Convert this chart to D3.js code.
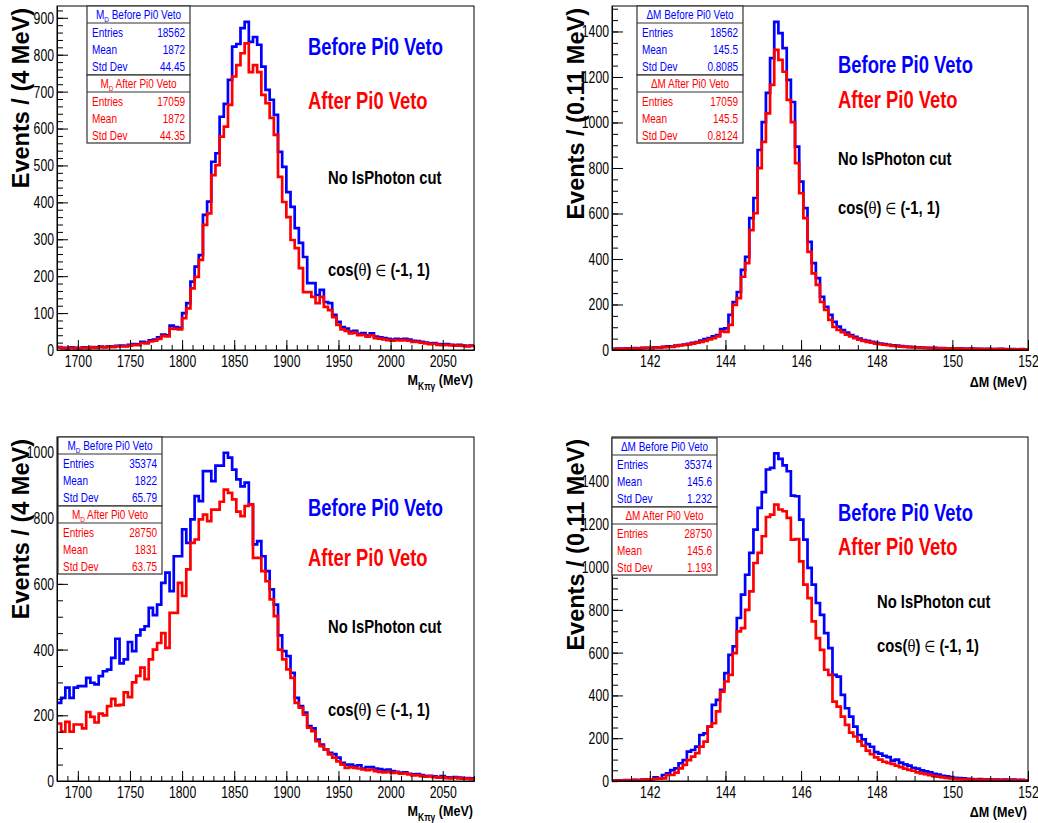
<!DOCTYPE html>
<html><head><meta charset="utf-8">
<script src="https://cdn.jsdelivr.net/npm/d3@7"></script>
<style>body{margin:0;background:#fff} svg{display:block}</style>
</head><body>
<svg id="c" width="1038" height="823"></svg>
<script>
// ---------------- DATA ----------------
const mdRange = [1680, 2080];          // M_Kpiγ histogram range (100 bins of 4 MeV)
const dmRange = [141, 152];            // ΔM histogram range (100 bins of 0.11 MeV)
const mdTicks = [1700, 1750, 1800, 1850, 1900, 1950, 2000, 2050];
const dmTicks = [142, 144, 146, 148, 150, 152];
const tlYTicks = [0, 100, 200, 300, 400, 500, 600, 700, 800, 900];
const trYTicks = [0, 200, 400, 600, 800, 1000, 1200, 1400];
const blYTicks = [0, 200, 400, 600, 800, 1000];
const brYTicks = [0, 200, 400, 600, 800, 1000, 1200, 1400];

const tlBefore = [8,6,5,7,6,5,7,6,8,7,9,8,10,9,11,12,11,14,16,15,22,20,26,28,34,42,40,66,62,60,
 100,127,185,226,257,366,402,510,533,632,667,732,822,829,872,889,835,848,827,768,705,678,637,537,496,
 428,388,330,290,252,181,181,149,163,130,127,95,76,62,58,50,52,44,46,40,45,36,34,32,30,28,30,29,30,28,
 25,24,22,20,18,19,16,15,16,14,13,14,12,11,12];
const tlAfter = [7,5,5,6,5,5,6,5,7,6,8,7,9,8,10,10,10,12,14,13,19,18,23,25,30,38,37,58,57,56,
 86,113,167,198,244,339,370,474,501,578,605,664,741,772,804,831,753,772,753,691,669,629,583,469,401,
 360,298,276,222,157,157,144,127,144,117,108,89,68,56,52,45,47,40,41,36,40,32,31,29,27,25,27,26,27,25,
 22,22,20,18,16,17,14,13,14,13,12,12,11,10,11];

const trBefore = [5,6,5,7,6,8,7,9,10,9,12,11,14,16,15,19,22,24,27,31,35,41,48,52,60,66,92,95,154,211,
 255,352,409,580,668,879,1002,1130,1283,1442,1393,1327,1187,1090,894,740,624,475,382,316,234,190,154,124,103,
 88,76,66,58,50,44,40,36,31,28,26,23,20,19,17,15,14,13,12,11,10,9,9,8,8,7,7,6,7,6,5,6,5,5,4,5,4,4,5,4,3,4,3,4,3];
const trAfter = [4,5,5,6,5,7,6,8,9,8,11,10,13,14,14,17,20,22,25,28,32,36,40,47,52,60,82,80,110,198,
 228,322,382,527,601,799,915,1040,1165,1319,1275,1223,1099,1002,821,689,580,431,337,286,211,176,132,101,88,
 78,68,60,52,45,40,36,32,28,26,23,21,18,17,15,14,13,12,11,10,9,8,8,7,7,7,6,6,6,5,5,5,5,4,4,4,4,4,4,3,3,3,3,3,3];

const blBefore = [238,253,284,253,284,289,289,314,299,294,319,334,339,375,433,358,370,423,395,443,461,471,527,505,537,
 603,634,578,684,684,766,725,796,867,852,943,943,913,960,960,999,984,948,918,897,908,842,720,730,684,639,583,537,443,395,
 380,329,253,228,208,167,160,126,111,96,86,82,71,55,50,50,45,48,38,42,42,38,36,33,35,30,28,25,26,22,20,21,18,15,16,
 14,12,15,11,10,12,10,8,9,8];
const blAfter = [175,150,180,150,172,172,160,210,195,178,205,200,228,250,230,232,270,255,300,320,345,310,370,400,420,
 450,405,512,512,603,563,644,725,735,796,811,791,826,826,850,887,877,857,820,806,837,842,679,679,639,608,553,502,400,370,
 340,314,238,223,202,162,152,121,106,96,81,71,60,50,40,42,40,38,35,33,35,30,28,26,28,25,26,22,23,20,17,18,15,13,14,
 12,10,12,9,8,10,8,7,7,6];

const brBefore = [2,3,2,4,3,5,4,6,8,8,17,12,28,36,51,59,83,98,137,145,161,215,223,254,356,379,426,504,590,629,
 762,871,964,1066,1175,1277,1350,1456,1464,1531,1506,1475,1448,1334,1331,1222,1128,996,918,832,777,691,621,496,488,
 403,340,301,254,215,195,172,160,135,128,118,112,95,100,86,78,72,62,58,50,45,40,34,30,24,22,18,15,13,12,10,9,8,9,7,
 8,6,7,5,6,5,6,4,5,3];
const brAfter = [1,2,2,3,2,4,3,5,6,8,10,12,12,28,28,39,59,75,98,114,130,161,184,254,270,325,418,465,496,598,
 699,715,800,886,1019,1066,1144,1234,1245,1292,1269,1261,1230,1128,1131,1027,918,855,746,668,613,520,496,371,348,
 301,262,226,208,185,165,142,125,110,100,90,85,80,72,65,58,52,48,40,36,32,27,23,20,17,14,12,10,9,8,7,6,7,5,6,
 5,4,5,4,3,4,3,4,3,3];

const statLabels = ["Entries", "Mean", "Std Dev"];
const tlStatBefore = ["18562", "1872", "44.45"];
const tlStatAfter  = ["17059", "1872", "44.35"];
const trStatBefore = ["18562", "145.5", "0.8085"];
const trStatAfter  = ["17059", "145.5", "0.8124"];
const blStatBefore = ["35374", "1822", "65.79"];
const blStatAfter  = ["28750", "1831", "63.75"];
const brStatBefore = ["35374", "145.6", "1.232"];
const brStatAfter  = ["28750", "145.6", "1.193"];

// ---------------- STYLE / LAYOUT ----------------
const FONT = "'Liberation Sans',Arial,Helvetica,sans-serif";
const BLUE = "#0000ff", RED = "#ff0000";
const svg = d3.select("#c");

const panels = [
  {x0:57, x1:474, y0:6, y1:350, dom:mdRange, yMax:932, xTicks:mdTicks, xMinor:10, yTicks:tlYTicks, yMinor:20,
   before:tlBefore, after:tlAfter, ytitle:"Events / (4 MeV)", xt:"M", xsub:"Kπγ", xtY:385,
   stat:{x:87, y:6, w:103, sym:"M", ssub:"D", b:tlStatBefore, a:tlStatAfter},
   ann:{bx:308, by:55, ay:109, nx:328, ny:184, cy:276}},
  {x0:612, x1:1028, y0:6, y1:350, dom:dmRange, yMax:1512, xTicks:dmTicks, xMinor:0.5, yTicks:trYTicks, yMinor:50,
   before:trBefore, after:trAfter, ytitle:"Events / (0.11 MeV)", xt:"ΔM", xsub:"", xtY:387,
   stat:{x:637, y:6, w:106, sym:"ΔM", ssub:"", b:trStatBefore, a:trStatAfter},
   ann:{bx:838, by:73, ay:108, nx:838, ny:165, cy:214}},
  {x0:57, x1:474, y0:437, y1:781, dom:mdRange, yMax:1047, xTicks:mdTicks, xMinor:10, yTicks:blYTicks, yMinor:50,
   before:blBefore, after:blAfter, ytitle:"Events / (4 MeV)", xt:"M", xsub:"Kπγ", xtY:816,
   stat:{x:58, y:437, w:104, sym:"M", ssub:"D", b:blStatBefore, a:blStatAfter},
   ann:{bx:308, by:516, ay:566, nx:328, ny:633, cy:716}},
  {x0:612, x1:1028, y0:437, y1:781, dom:dmRange, yMax:1608, xTicks:dmTicks, xMinor:0.5, yTicks:brYTicks, yMinor:50,
   before:brBefore, after:brAfter, ytitle:"Events / (0.11 MeV)", xt:"ΔM", xsub:"", xtY:817,
   stat:{x:612, y:438, w:105, sym:"ΔM", ssub:"", b:brStatBefore, a:brStatAfter},
   ann:{bx:838, by:521, ay:555, nx:877, ny:608, cy:652}}
];

// condensed text helper: text placed at (x,y) and squeezed horizontally
function ctext(parent, x, y, sx, size, opts = {}) {
  return parent.append("text")
    .attr("transform", `translate(${x},${y}) scale(${sx},1)`)
    .attr("font-family", FONT).attr("font-size", size)
    .attr("font-weight", opts.bold ? "bold" : "normal")
    .attr("text-anchor", opts.anchor || "start")
    .attr("fill", opts.fill || "#000");
}

const TICK_SX = 0.72, TICK_FS = 17;
function styleAxis(g) {
  g.attr("font-family", FONT).attr("font-size", TICK_FS);
  g.selectAll("line").attr("stroke", "#000").attr("stroke-width", 1);
  g.selectAll("path.domain").attr("stroke", "#000").attr("stroke-width", 1);
  g.selectAll("text").attr("fill", "#000");
}

function drawPanel(p) {
  const g = svg.append("g");
  const x = d3.scaleLinear().domain(p.dom).range([p.x0, p.x1]);
  const y = d3.scaleLinear().domain([0, p.yMax]).range([p.y1, p.y0]);
  const n = p.before.length;
  const bw = (p.dom[1] - p.dom[0]) / n;

  // histograms
  const line = d3.line().x(d => x(d[0])).y(d => y(d[1])).curve(d3.curveStepAfter);
  [[p.before, BLUE], [p.after, RED]].forEach(([vals, col]) => {
    const pts = vals.map((v, i) => [p.dom[0] + i * bw, v]);
    pts.push([p.dom[1], vals[n - 1]]);
    g.append("path").attr("d", line(pts)).attr("fill", "none")
      .attr("stroke", col).attr("stroke-width", 2.7).attr("stroke-linejoin", "miter");
  });

  // frame
  g.append("rect").attr("x", p.x0).attr("y", p.y0).attr("width", p.x1 - p.x0).attr("height", p.y1 - p.y0)
    .attr("fill", "none").attr("stroke", "#000").attr("stroke-width", 1);

  // x axis
  const xMinorVals = d3.range(Math.ceil(p.dom[0] / p.xMinor) * p.xMinor, p.dom[1] + 1e-9, p.xMinor);
  const xm = g.append("g").attr("transform", `translate(0,${p.y1})`)
    .call(d3.axisBottom(x).tickValues(xMinorVals).tickSize(-5).tickSizeOuter(0).tickFormat(""));
  styleAxis(xm);
  const xa = g.append("g").attr("transform", `translate(0,${p.y1})`)
    .call(d3.axisBottom(x).tickValues(p.xTicks).tickSize(-10).tickSizeOuter(0).tickPadding(5).tickFormat(d3.format("d")));
  styleAxis(xa);
  xa.selectAll("text").attr("transform", `scale(${TICK_SX},1)`);

  // y axis
  const yMinorVals = d3.range(0, p.yMax, p.yMinor);
  const ym = g.append("g").attr("transform", `translate(${p.x0},0)`)
    .call(d3.axisLeft(y).tickValues(yMinorVals).tickSize(-6).tickSizeOuter(0).tickFormat(""));
  styleAxis(ym);
  const ya = g.append("g").attr("transform", `translate(${p.x0},0)`)
    .call(d3.axisLeft(y).tickValues(p.yTicks).tickSize(-11).tickSizeOuter(0).tickPadding(3).tickFormat(d3.format("d")));
  styleAxis(ya);
  ya.selectAll("text").attr("x", -3 / TICK_SX).attr("transform", `scale(${TICK_SX},1)`);

  // y title
  g.append("text").attr("transform", `translate(${p.x0 - 28},${p.y0 + 2}) rotate(-90)`)
    .attr("text-anchor", "end").attr("font-family", FONT).attr("font-weight", "bold")
    .attr("font-size", 23.5).attr("fill", "#000").text(p.ytitle);

  // x title
  const xt = ctext(g, p.x1 - 1, p.xtY, 0.84, 15, {bold: true, anchor: "end"});
  xt.append("tspan").text(p.xt);
  if (p.xsub) {
    xt.append("tspan").attr("font-size", 10).attr("dy", 5).text(p.xsub);
    xt.append("tspan").attr("dy", -5).text(" (MeV)");
  } else {
    xt.append("tspan").text(" (MeV)");
  }

  // stat boxes
  const s = p.stat;
  const boxes = [
    {y: s.y, h: 69, col: BLUE, title: " Before Pi0 Veto", vals: s.b},
    {y: s.y + 69, h: 68, col: RED, title: " After Pi0 Veto", vals: s.a}
  ];
  boxes.forEach(b => {
    const bg = g.append("g");
    bg.append("rect").attr("x", s.x).attr("y", b.y).attr("width", s.w).attr("height", b.h)
      .attr("fill", "#fff").attr("stroke", "#333").attr("stroke-width", 1.2);
    bg.append("line").attr("x1", s.x).attr("x2", s.x + s.w).attr("y1", b.y + 17).attr("y2", b.y + 17)
      .attr("stroke", "#333").attr("stroke-width", 1.2);
    const t = ctext(bg, s.x + s.w / 2, b.y + 13, 0.8, 12.5, {anchor: "middle", fill: b.col});
    t.append("tspan").text(s.sym);
    if (s.ssub) {
      t.append("tspan").attr("font-size", 8).attr("dy", 3).text(s.ssub);
      t.append("tspan").attr("dy", -3).text(b.title);
    } else t.append("tspan").text(b.title);
    statLabels.forEach((lab, i) => {
      const yy = b.y + 31 + i * 17;
      ctext(bg, s.x + 5, yy, 0.8, 12.5, {fill: b.col}).text(lab);
      ctext(bg, s.x + s.w - 5, yy, 0.8, 12.5, {fill: b.col, anchor: "end"}).text(b.vals[i]);
    });
  });

  // annotations
  const a = p.ann;
  ctext(g, a.bx, a.by, 0.8, 23, {bold: true, fill: BLUE}).text("Before Pi0 Veto");
  ctext(g, a.bx, a.ay, 0.8, 23, {bold: true, fill: RED}).text("After Pi0 Veto");
  ctext(g, a.nx, a.ny, 0.78, 19, {bold: true}).text("No IsPhoton cut");
  const c = ctext(g, a.nx, a.cy, 0.78, 19, {bold: true});
  c.append("tspan").text("cos(");
  c.append("tspan").attr("font-weight", "normal").attr("font-family", "'DejaVu Serif',serif").attr("font-size", 17).text("θ");
  c.append("tspan").text(") ");
  c.append("tspan").attr("font-weight", "normal").attr("font-family", "'DejaVu Sans',sans-serif").attr("font-size", 16).text("∈");
  c.append("tspan").text(" (-1, 1)");
}

panels.forEach(drawPanel);
</script>
</body></html>
